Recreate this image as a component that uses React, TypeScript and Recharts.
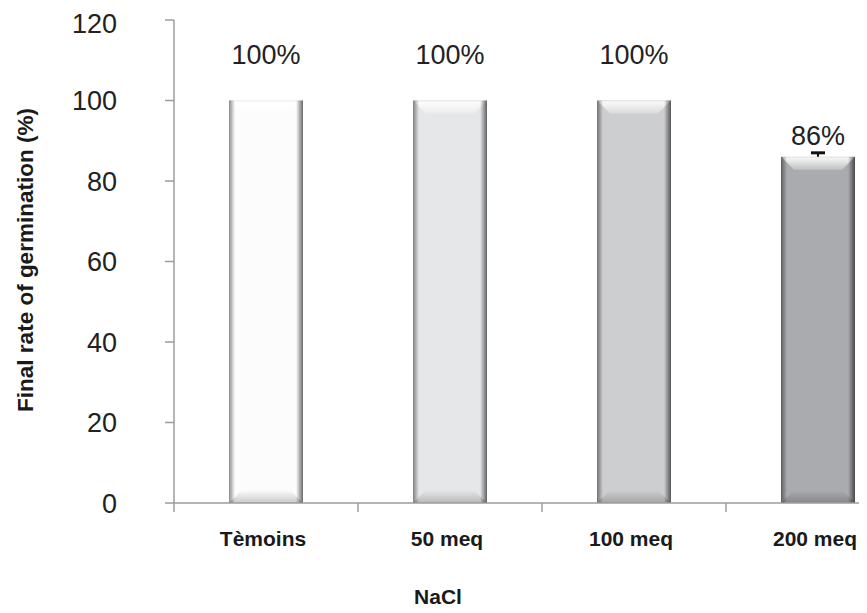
import React from 'react';
import { BarChart, Bar, XAxis, YAxis, LabelList, Label } from 'recharts';

const categories = ['Tèmoins', '50 meq', '100 meq', '200 meq'];
const germinationRate = [100, 100, 100, 86];
const errorHigh: (number | null)[] = [null, null, null, 1];
const valueLabels = ['100%', '100%', '100%', '86%'];
const yTicks = [0, 20, 40, 60, 80, 100, 120];
const barColors = ['#fcfcfc', '#e6e7e9', '#cdced0', '#aaabaf'];
const axisTitleX = 'NaCl';
const axisTitleY = 'Final rate of germination (%)';

const data = categories.map((name, i) => ({
  name,
  value: germinationRate[i],
  err: errorHigh[i],
  label: valueLabels[i],
}));

const FONT = 'Arial, "Liberation Sans", Helvetica, sans-serif';
const CHART_W = 902;
const CHART_H = 605;
const Y_AXIS_W = 166;
const PLOT_W = CHART_W - Y_AXIS_W;
const BAND = PLOT_W / categories.length;
const X_TICK_MARGIN = 28;
const AXIS_COLOR = '#9c9c9c';
const LABEL_OFFSETS = [37, 37, 37, 12];

const BevelBar = (props: any) => {
  const { x, y, width: w, height: h, index, payload } = props;
  if (w == null || h == null) return null;
  const base = barColors[index] || '#ccc';
  const id = `bv${index}`;
  const b = 13;
  const pxPerUnit = payload && payload.value ? h / payload.value : 0;
  const err = payload ? payload.err : null;
  const errTop = err != null ? y - err * pxPerUnit : null;
  const cx = x + w / 2;
  return (
    <g>
      <defs>
        <linearGradient id={`${id}l`} x1="0" y1="0" x2="1" y2="0">
          <stop offset="0" stopColor="#000" stopOpacity={0.45} />
          <stop offset="1" stopColor="#000" stopOpacity={0} />
        </linearGradient>
        <linearGradient id={`${id}r`} x1="0" y1="0" x2="1" y2="0">
          <stop offset="0" stopColor="#000" stopOpacity={0} />
          <stop offset="1" stopColor="#000" stopOpacity={0.58} />
        </linearGradient>
        <linearGradient id={`${id}t`} x1="0" y1="0" x2="0" y2="1">
          <stop offset="0" stopColor="#fff" stopOpacity={0.95} />
          <stop offset="1" stopColor="#fff" stopOpacity={0.25} />
        </linearGradient>
        <linearGradient id={`${id}b`} x1="0" y1="0" x2="0" y2="1">
          <stop offset="0" stopColor="#000" stopOpacity={0.0} />
          <stop offset="1" stopColor="#000" stopOpacity={0.2} />
        </linearGradient>
        <linearGradient id={`${id}s`} x1="0" y1="0" x2="0" y2="1">
          <stop offset="0" stopColor="#000" stopOpacity={0.35} />
          <stop offset="1" stopColor="#000" stopOpacity={0} />
        </linearGradient>
      </defs>
      <rect x={x + 1} y={y + h} width={w} height={7} fill={`url(#${id}s)`} />
      <rect x={x} y={y} width={w} height={h} fill={base} />
      <polygon
        points={`${x},${y} ${x + w},${y} ${x + w - b},${y + b} ${x + b},${y + b}`}
        fill={`url(#${id}t)`}
      />
      <polygon
        points={`${x},${y + h} ${x + w},${y + h} ${x + w - b},${y + h - b} ${x + b},${y + h - b}`}
        fill={`url(#${id}b)`}
      />
      <rect x={x} y={y} width={6} height={h} fill={`url(#${id}l)`} />
      <rect x={x + w - 7} y={y} width={7} height={h} fill={`url(#${id}r)`} />
      <line x1={x} x2={x + w} y1={y + 0.5} y2={y + 0.5} stroke="#000" strokeOpacity={0.08} />
      {errTop != null && (
        <g stroke="#111">
          <line x1={cx} x2={cx} y1={y} y2={errTop} strokeWidth={2} />
          <line x1={cx - 7} x2={cx + 7} y1={errTop} y2={errTop} strokeWidth={3} />
        </g>
      )}
    </g>
  );
};

const XTick = (props: any) => {
  const { x, y, payload } = props;
  const axisY = y - X_TICK_MARGIN;
  const bx = x - BAND / 2;
  return (
    <g>
      <line x1={bx} x2={bx} y1={axisY} y2={axisY + 9} stroke={AXIS_COLOR} strokeWidth={1.5} />
      <text
        x={x - 3}
        y={y}
        dy="0.71em"
        textAnchor="middle"
        fontFamily={FONT}
        fontWeight="bold"
        fontSize={21}
        fill="#1a1a1a"
      >
        {payload.value}
      </text>
    </g>
  );
};

const ValueLabel = (props: any) => {
  const { x, y, width, value, index } = props;
  return (
    <text
      x={x + width / 2}
      y={y - LABEL_OFFSETS[index]}
      textAnchor="middle"
      fontFamily={FONT}
      fontSize={27}
      fill="#222"
    >
      {value}
    </text>
  );
};

const XTitle = (props: any) => {
  const vb = props.viewBox || {};
  return (
    <text
      x={vb.x + 264}
      y={vb.y + 94}
      dy="0.35em"
      textAnchor="middle"
      fontFamily={FONT}
      fontWeight="bold"
      fontSize={21}
      fill="#1a1a1a"
    >
      {axisTitleX}
    </text>
  );
};

const YTitle = () => {
  const cx = 17;
  const cy = 252;
  return (
    <text
      x={cx}
      y={cy}
      dy="0.35em"
      textAnchor="middle"
      transform={`rotate(-90 ${cx} ${cy})`}
      fontFamily={FONT}
      fontWeight="bold"
      fontSize={22.5}
      fill="#1a1a1a"
    >
      {axisTitleY}
    </text>
  );
};

export default function App() {
  return (
    <div style={{ width: 859, height: 605, overflow: 'hidden', background: '#fff' }}>
      <BarChart
        width={CHART_W}
        height={CHART_H}
        data={data}
        margin={{ top: 12, right: 0, left: 0, bottom: 0 }}
        barSize={74}
      >
        <XAxis
          dataKey="name"
          height={110}
          tickSize={0}
          tickMargin={X_TICK_MARGIN}
          tickLine={false}
          axisLine={{ stroke: AXIS_COLOR, strokeWidth: 1.5 }}
          tick={<XTick />}
          interval={0}
        >
          <Label content={<XTitle />} />
        </XAxis>
        <YAxis
          width={Y_AXIS_W}
          domain={[0, 120]}
          ticks={yTicks}
          tickSize={9}
          tickMargin={48}
          axisLine={{ stroke: AXIS_COLOR, strokeWidth: 1.5 }}
          tickLine={{ stroke: AXIS_COLOR, strokeWidth: 1.5 }}
          tick={{ fontFamily: FONT, fontSize: 27, fill: '#222' }}
          allowDataOverflow
        >
          <Label content={<YTitle />} />
        </YAxis>
        <Bar dataKey="value" shape={<BevelBar />} isAnimationActive={false}>
          <LabelList dataKey="label" content={<ValueLabel />} />
        </Bar>
      </BarChart>
    </div>
  );
}
